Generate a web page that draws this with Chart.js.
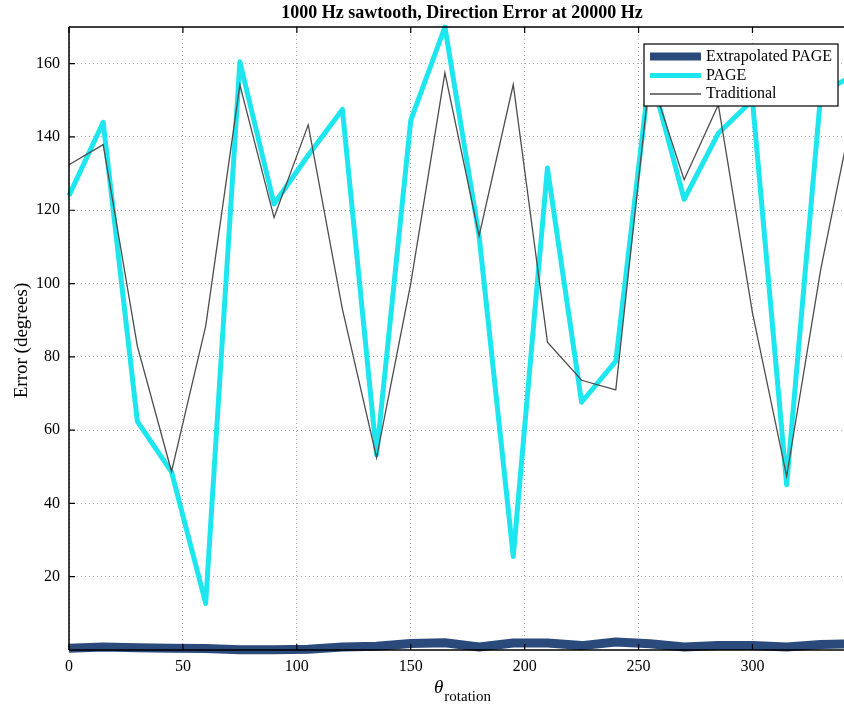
<!DOCTYPE html>
<html>
<head>
<meta charset="utf-8">
<script src="https://cdn.jsdelivr.net/npm/chart.js@4/dist/chart.umd.min.js"></script>
<style>
html,body{margin:0;padding:0;background:#fff;overflow:hidden;width:844px;height:708px;}
#wrap{position:absolute;left:0;top:0;width:870px;height:708px;}
</style>
</head>
<body>
<div id="wrap"><canvas id="c"></canvas></div>
<script>
const rotation = [0,15,30,45,60,75,90,105,120,135,150,165,180,195,210,225,240,255,270,285,300,315,330,345];
const extrapolatedPAGE = [0.5,0.8,0.6,0.5,0.4,0.1,0.1,0.2,0.8,1.0,1.8,2.0,0.8,1.9,1.9,1.2,2.2,1.7,0.8,1.2,1.2,0.8,1.5,1.7];
const page = [124,144,62.4,48.6,12.7,160.5,121.7,135,147.5,53.3,144.5,170,113,25.5,131.5,67.6,78.8,158,123,141,150,45.1,152,157];
const traditional = [132.4,137.9,82.9,48.7,88.4,154.2,118,143.3,93,52.5,100,157.5,113,154.3,84,73.6,71,157,128.3,148.8,92,47.4,104,150];
const xTicks = [0,50,100,150,200,250,300];
const yTicks = [20,40,60,80,100,120,140,160];
const seriesNames = ['Extrapolated PAGE','PAGE','Traditional'];
const titleText = '1000 Hz sawtooth, Direction Error at 20000 Hz';
const yLabel = 'Error (degrees)';

const SERIF = '"Liberation Serif","Times New Roman",serif';
const colors = ['#2b4a7c','#1de6ef','#4d4d4d'];
const widths = [9,5,1.3];

const mk = (vals)=>rotation.map((x,i)=>({x:x,y:vals[i]}));

const decor = {
  id:'decor',
  afterDraw(chart){
    const ctx = chart.ctx, a = chart.chartArea;
    const xs = chart.scales.x, ys = chart.scales.y;
    ctx.save();
    ctx.strokeStyle = '#000'; ctx.lineWidth = 1.5;
    ctx.beginPath();
    ctx.moveTo(a.left, a.top); ctx.lineTo(a.right+20, a.top);
    ctx.moveTo(a.left, a.top); ctx.lineTo(a.left, a.bottom);
    ctx.moveTo(a.left, a.bottom); ctx.lineTo(a.right+20, a.bottom);
    ctx.stroke();
    ctx.lineWidth = 1.2;
    ctx.beginPath();
    xTicks.forEach(v=>{const px = xs.getPixelForValue(v);
      ctx.moveTo(px,a.bottom); ctx.lineTo(px,a.bottom-6);
      ctx.moveTo(px,a.top); ctx.lineTo(px,a.top+6);});
    yTicks.forEach(v=>{const py = ys.getPixelForValue(v);
      ctx.moveTo(a.left,py); ctx.lineTo(a.left+6,py);});
    ctx.stroke();
    ctx.fillStyle = '#000';
    ctx.font = 'bold 18px ' + SERIF;
    ctx.textAlign = 'center'; ctx.textBaseline = 'middle';
    ctx.fillText(titleText, (a.left+a.right)/2, 13);
    ctx.save();
    ctx.translate(22, (a.top+a.bottom)/2 + 2);
    ctx.rotate(-Math.PI/2);
    ctx.font = '19px ' + SERIF;
    ctx.fillText(yLabel, 0, 0);
    ctx.restore();
    const cx = (a.left+a.right)/2;
    ctx.textAlign = 'left';
    ctx.font = 'italic 19px ' + SERIF;
    const tw = ctx.measureText('\u03b8').width;
    ctx.font = '15px ' + SERIF;
    const sw = ctx.measureText('rotation').width;
    const start = cx - (tw+sw)/2;
    ctx.font = 'italic 19px ' + SERIF;
    ctx.fillText('\u03b8', start, 688);
    ctx.font = '15px ' + SERIF;
    ctx.fillText('rotation', start+tw+1, 697);
    const lx = 644, ly = 44, lw = 194, lh = 62;
    ctx.fillStyle = '#fff';
    ctx.fillRect(lx, ly, lw, lh);
    ctx.strokeStyle = '#000'; ctx.lineWidth = 1.2;
    ctx.strokeRect(lx, ly, lw, lh);
    const rows = [56.5, 75.5, 94];
    ctx.font = '16px ' + SERIF;
    ctx.textBaseline = 'middle';
    chart.data.datasets.forEach((ds,i)=>{
      ctx.strokeStyle = ds.borderColor; ctx.lineWidth = Math.min(ds.borderWidth, 8);
      ctx.beginPath(); ctx.moveTo(650, rows[i]); ctx.lineTo(701, rows[i]); ctx.stroke();
      ctx.fillStyle = '#000';
      ctx.fillText(ds.label, 706, rows[i]);
    });
    ctx.restore();
  }
};

new Chart(document.getElementById('c'), {
  type:'line',
  data:{
    datasets:[
      {label:seriesNames[0], data:mk(extrapolatedPAGE), borderColor:colors[0], backgroundColor:colors[0], borderWidth:widths[0], pointRadius:0, order:2, clip:false, tension:0, borderJoinStyle:'round'},
      {label:seriesNames[1], data:mk(page), borderColor:colors[1], backgroundColor:colors[1], borderWidth:widths[1], pointRadius:0, order:1, clip:false, tension:0, borderJoinStyle:'round'},
      {label:seriesNames[2], data:mk(traditional), borderColor:colors[2], backgroundColor:colors[2], borderWidth:widths[2], pointRadius:0, order:0, clip:false, tension:0}
    ]
  },
  options:{
    responsive:true, maintainAspectRatio:false, animation:false,
    layout:{padding:{left:0, top:27, right:15, bottom:0}},
    plugins:{legend:{display:false}, title:{display:false}, tooltip:{enabled:false}},
    scales:{
      x:{type:'linear', min:0, max:345,
        afterBuildTicks:(s)=>{s.ticks = xTicks.map(v=>({value:v}));},
        afterFit:(s)=>{s.height = 58;},
        border:{display:false, dash:[1,3]},
        grid:{color:'#a8a8a8', lineWidth:1, drawTicks:false},
        ticks:{color:'#000', font:{family:SERIF, size:16}, padding:7, maxRotation:0, autoSkip:false}
      },
      y:{type:'linear', min:0, max:170,
        afterBuildTicks:(s)=>{s.ticks = yTicks.map(v=>({value:v}));},
        afterFit:(s)=>{s.width = 69;},
        border:{display:false, dash:[1,3]},
        grid:{color:'#a8a8a8', lineWidth:1, drawTicks:false},
        ticks:{color:'#000', font:{family:SERIF, size:16}, padding:9, autoSkip:false}
      }
    }
  },
  plugins:[decor]
});
</script>
</body>
</html>
